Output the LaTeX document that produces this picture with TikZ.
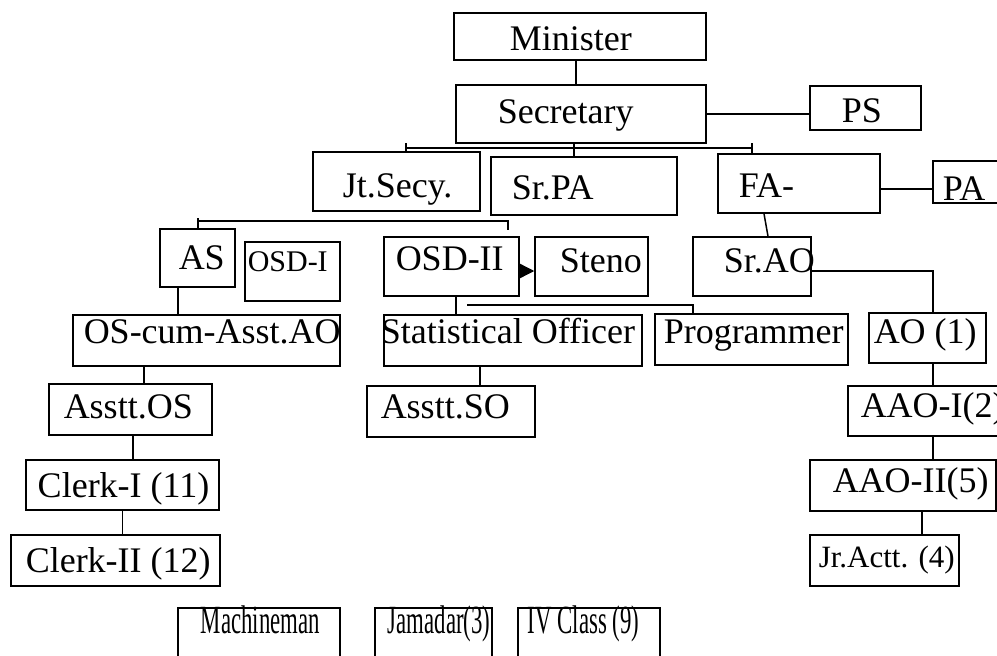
\documentclass[tikz,border=0pt]{standalone}
\usepackage{fontspec}
\setmainfont{Liberation Serif}
\usepackage{graphicx}
\usetikzlibrary{positioning,fit,arrows.meta}
\tikzstyle{box}=[draw,rectangle,inner sep=0pt]
\tikzstyle{lbl}=[anchor=base west,inner sep=0pt,font=\fontsize{36}{40}\selectfont]
\newcommand{\smallfont}{\fontsize{30}{34}\selectfont}
\newcommand{\narrow}[1]{\fontsize{40}{44}\selectfont\scalebox{0.57}[1]{#1}}
% name, corner, corner, text position, text
\newcommand{\newBox}[8]{\node[box,fit={(#2,#3) (#4,#5)}](#1){};
  \node[lbl](#1-t) at (#6,#7){#8};}
\begin{document}
\begin{tikzpicture}[x=1pt,y=-1pt,
      >={Triangle[length=16pt,width=16pt]},
      line width=1.5pt
      ]
      \clip (0,0) rectangle (997,656);
      % top
      \newBox{min}{454}{13}{706}{60}{509}{50}{Minister}
      \newBox{sec}{456}{85}{706}{143}{497}{123}{Secretary}
      \newBox{ps}{810}{86}{921}{130}{841}{122}{PS}
      \newBox{js}{313}{152}{480}{211}{342}{197}{Jt.Secy.}
      \newBox{srpa}{491}{157}{677}{215}{511}{199}{Sr.PA}
      \newBox{fa}{718}{154}{880}{213}{738}{197}{FA-}
      \newBox{pa}{933}{161}{1005}{203}{942}{200}{PA}
      % second row
      \newBox{as}{160}{229}{235}{287}{178}{269}{AS}
      \newBox{osd1}{245}{242}{340}{301}{247}{271}{\smallfont OSD-I}
      \newBox{osd2}{384}{237}{519}{296}{395}{270}{OSD-II}
      \newBox{steno}{535}{237}{648}{296}{559}{272}{Steno}
      \newBox{srao}{693}{237}{811}{296}{723}{272}{Sr.AO}
      \newBox{oscum}{73}{315}{340}{366}{83}{343}{OS-cum-Asst.AO}
      \newBox{stat}{384}{315}{642}{366}{380}{343}{Statistical Officer}
      \newBox{prog}{655}{314}{848}{365}{663}{343}{Programmer}
      \newBox{ao}{869}{313}{986}{363}{873}{343}{AO (1)}
      % lower rows
      \newBox{asstos}{49}{384}{212}{435}{63}{418}{Asstt.OS}
      \newBox{asso}{367}{386}{535}{437}{380}{418}{Asstt.SO}
      \newBox{aao1}{848}{386}{1005}{436}{860}{417}{AAO-I(2)}
      \newBox{clerk1}{26}{460}{219}{510}{37}{497}{Clerk-I (11)}
      \newBox{aao2}{810}{460}{996}{511}{832}{492}{AAO-II(5)}
      \newBox{clerk2}{11}{535}{220}{586}{25}{572}{Clerk-II (12)}
      \newBox{jr}{810}{535}{959}{586}{818}{567}{\fontsize{31}{34}\selectfont Jr.Actt. (4)}
      \newBox{mach}{178}{608}{340}{680}{200}{633}{\narrow{Machineman}}
      \newBox{jam}{375}{608}{492}{680}{387}{633}{\narrow{Jamadar(3)}}
      \newBox{iv}{518}{608}{660}{680}{527}{633}{\narrow{IV Class (9)}}
      \coordinate (j1) at (406,148);
      \coordinate (j2) at (752,148);
      \coordinate (k1) at (198,221);
      \coordinate (k2) at (508,221);
      \coordinate (m1) at (467,305);
      % connectors
      \draw ([xshift=-4pt]min.south) -- ([xshift=-5pt]sec.north);
      \draw (sec.east) -- (sec.east -| ps.west);
      \draw ([xshift=-7pt]sec.south) -- ([xshift=-10pt]srpa.north);
      \draw (j1) -- (j2);
      \draw ([yshift=5pt]j1) -- (j1 |- js.north);
      \draw ([yshift=5pt]j2) -- (j2 |- fa.north);
      \draw ([yshift=-5.5pt]fa.east) -- ([yshift=-5.5pt]fa.east -| pa.west);
      \draw ([xshift=-35pt]fa.south) -- ([xshift=16pt]srao.north);
      \draw ([yshift=3pt]k1) -- (k1 |- as.north);
      \draw (k1) -- (k2) -- ([yshift=-9pt]k2);
      \draw[->] ([yshift=-4.5pt]osd2.east) -- ([yshift=-4.5pt]steno.west);
      \draw ([xshift=4.5pt]osd2.south) -- ([xshift=4.5pt]osd2.south |- stat.north);
      \draw (m1) -| ([xshift=-58.5pt]prog.north);
      \draw ([yshift=-4.5pt]srao.east) -| ([xshift=5.5pt]ao.north);
      \draw ([xshift=-19.5pt]as.south) -- ([xshift=-19.5pt]as.south |- oscum.north);
      \draw ([xshift=-62.5pt]oscum.south) -- ([xshift=-62.5pt]oscum.south |- asstos.north);
      \draw ([xshift=2.5pt]asstos.south) -- ([xshift=2.5pt]asstos.south |- clerk1.north);
      \draw (clerk1.south) -- (clerk1.south |- clerk2.north);
      \draw ([xshift=-33pt]stat.south) -- ([xshift=-33pt]stat.south |- asso.north);
      \draw ([xshift=5.5pt]ao.south) -- ([xshift=5.5pt]ao.south |- aao1.north);
      \draw ([xshift=6.5pt]aao1.south) -- ([xshift=6.5pt]aao1.south |- aao2.north);
      \draw ([xshift=19pt]aao2.south) -- ([xshift=19pt]aao2.south |- jr.north);
    \end{tikzpicture}
\end{document}
